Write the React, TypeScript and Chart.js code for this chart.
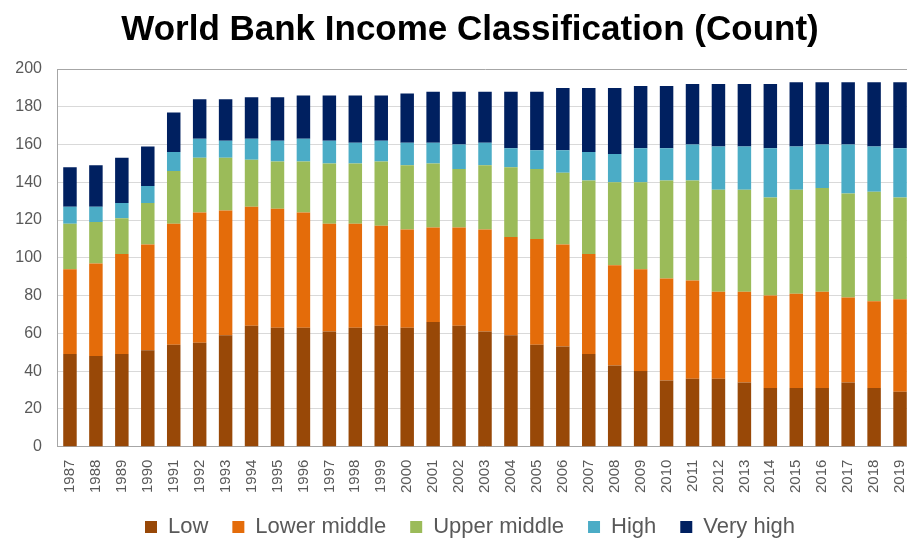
import React, { useEffect, useRef } from 'react';
import { Chart, registerables } from 'chart.js';

Chart.register(...registerables);

const TITLE = 'World Bank Income Classification (Count)';

const years = [
  '1987', '1988', '1989', '1990', '1991', '1992', '1993', '1994', '1995', '1996', '1997',
  '1998', '1999', '2000', '2001', '2002', '2003', '2004', '2005', '2006', '2007', '2008',
  '2009', '2010', '2011', '2012', '2013', '2014', '2015', '2016', '2017', '2018', '2019',
];

const low = [49, 48, 49, 51, 54, 55, 59, 64, 63, 63, 61, 63, 64, 63, 66, 64, 61, 59, 54, 53, 49, 43, 40, 35, 36, 36, 34, 31, 31, 31, 34, 31, 29];
const lowerMiddle = [45, 49, 53, 56, 64, 69, 66, 63, 63, 61, 57, 55, 53, 52, 50, 52, 54, 52, 56, 54, 53, 53, 54, 54, 52, 46, 48, 49, 50, 51, 45, 46, 49];
const upperMiddle = [24, 22, 19, 22, 28, 29, 28, 25, 25, 27, 32, 32, 34, 34, 34, 31, 34, 37, 37, 38, 39, 44, 46, 52, 53, 54, 54, 52, 55, 55, 55, 58, 54];
const high = [9, 8, 8, 9, 10, 10, 9, 11, 11, 12, 12, 11, 11, 12, 11, 13, 12, 10, 10, 12, 15, 15, 18, 17, 19, 23, 23, 26, 23, 23, 26, 24, 26];
const veryHigh = [21, 22, 24, 21, 21, 21, 22, 22, 23, 23, 24, 25, 24, 26, 27, 28, 27, 30, 31, 33, 34, 35, 33, 33, 32, 33, 33, 34, 34, 33, 33, 34, 35];

const seriesNames = ['Low', 'Lower middle', 'Upper middle', 'High', 'Very high'];
const seriesColors = ['#984807', '#E46C0A', '#9BBB59', '#4BACC6', '#002060'];

const yTicks = [0, 20, 40, 60, 80, 100, 120, 140, 160, 180, 200];

// Pull the bottom legend up, closer to the rotated year labels.
const legendLift = {
  id: 'legendLift',
  afterLayout(chart: any) {
    const lg = chart.legend;
    if (lg) {
      lg.top -= 14;
      lg.bottom -= 14;
    }
  },
};

export default function App() {
  const ref = useRef<HTMLCanvasElement>(null);

  useEffect(() => {
    Chart.defaults.font.family = "'Liberation Sans', Arial, sans-serif";
    const values = [low, lowerMiddle, upperMiddle, high, veryHigh];
    const chart = new Chart(ref.current as HTMLCanvasElement, {
      type: 'bar',
      data: {
        labels: years,
        datasets: values.map((v, i) => ({
          label: seriesNames[i],
          data: v,
          backgroundColor: seriesColors[i],
          borderWidth: 0,
          categoryPercentage: 0.8,
          barPercentage: 0.65,
        })),
      },
      plugins: [legendLift],
      options: {
        responsive: false,
        animation: false,
        layout: { padding: 0 },
        plugins: {
          title: {
            display: true,
            text: TITLE,
            color: '#000000',
            font: { size: 35, weight: 'bold' },
            padding: { top: 9, bottom: 18 },
          },
          legend: {
            position: 'bottom',
            labels: {
              boxWidth: 12,
              boxHeight: 12,
              padding: 24,
              color: '#595959',
              font: { size: 22 },
            },
          },
          tooltip: { enabled: false },
        },
        scales: {
          x: {
            stacked: true,
            grid: { display: false, drawTicks: false },
            border: { color: '#a6a6a6', width: 1 },
            ticks: {
              minRotation: 90,
              maxRotation: 90,
              autoSkip: false,
              padding: 13,
              color: '#595959',
              font: { size: 15 },
            },
          },
          y: {
            stacked: true,
            min: yTicks[0],
            max: yTicks[yTicks.length - 1],
            afterBuildTicks: (s: any) => {
              s.ticks = yTicks.map((v) => ({ value: v }));
            },
            ticks: { padding: 15, color: '#595959', font: { size: 16 } },
            grid: {
              drawTicks: false,
              color: (ctx: any) => (ctx.tick && ctx.tick.value === 200 ? '#a6a6a6' : '#d9d9d9'),
            },
            border: { color: '#a6a6a6', width: 1 },
            afterFit: (s: any) => {
              s.width = 57;
            },
          },
          y2: {
            position: 'right',
            display: true,
            grid: { display: false, drawTicks: false },
            ticks: { display: false },
            border: { display: false },
            afterFit: (s: any) => {
              s.width = 27;
            },
          },
        },
      },
    } as any);
    return () => chart.destroy();
  }, []);

  return (
    <div style={{ position: 'absolute', left: 0, top: 0, width: 907, height: 539, overflow: 'hidden', background: '#ffffff' }}>
      <canvas ref={ref} width={940} height={562} style={{ display: 'block' }} />
    </div>
  );
}
